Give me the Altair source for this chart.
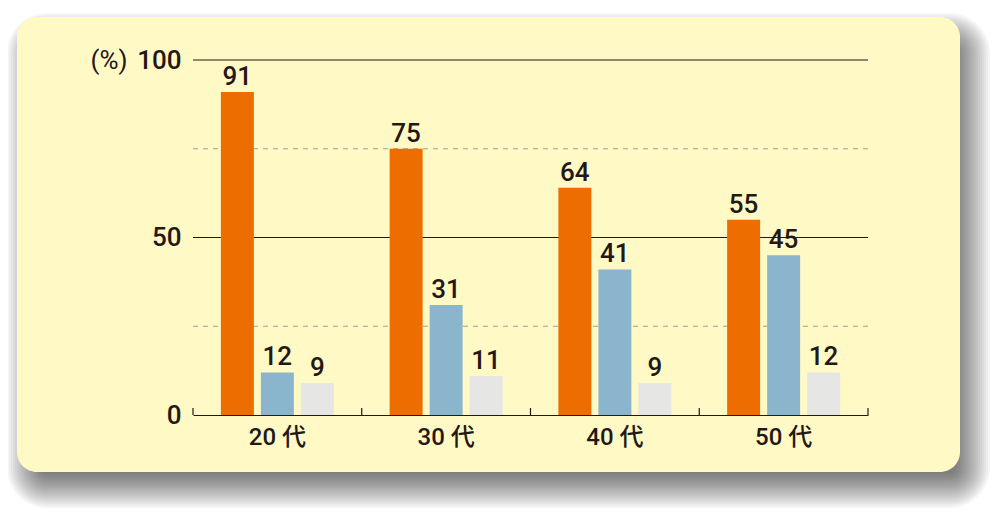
import altair as alt
import pandas as pd

ages = ["20 代", "30 代", "40 代", "50 代"]
series_names = ["系列1", "系列2", "系列3"]
vals_orange = [91, 75, 64, 55]
vals_blue = [12, 31, 41, 45]
vals_gray = [9, 11, 9, 12]
colors = ["#EE6D00", "#8BB5CD", "#E6E6E4"]
y_ticks = [0, 50, 100]
grid_solid = [50, 100]
grid_dashed = [25, 75]

rows = []
for s, vals in zip(series_names, [vals_orange, vals_blue, vals_gray]):
    for a, v in zip(ages, vals):
        rows.append({"age": a, "series": s, "value": v})
df = pd.DataFrame(rows)

W, H = 675, 355
TXT = "#231815"
FONT = "Roboto, Noto Sans CJK JP, sans-serif"

xenc = alt.X("age:N", sort=ages, scale=alt.Scale(paddingInner=0, paddingOuter=0),
             axis=alt.Axis(title=None, labelAngle=0, ticks=False, domain=True, domainColor="#231815",
                           domainWidth=1.2, labelFontSize=24, labelColor=TXT, labelPadding=10,
                           labelFont=FONT, labelFontWeight=500, zindex=2, grid=False))
yenc = alt.Y("value:Q", scale=alt.Scale(domain=[0, 100]),
             axis=alt.Axis(title=None, values=y_ticks, domain=False, ticks=False, grid=False,
                           labelFontSize=26, labelColor=TXT, labelPadding=12, labelFont=FONT,
                           labelFontWeight=500, zindex=2))
xoff = alt.XOffset("series:N", sort=series_names,
                   scale=alt.Scale(paddingInner=0.175, paddingOuter=0.697))
col = alt.Color("series:N", sort=series_names,
                scale=alt.Scale(domain=series_names, range=colors), legend=None)

base = alt.Chart(df)

# decorative panel + soft shadow
px0, px1, py0, py1 = -176, 767, -43, 412
dx, dy = 10, 16
layers = []
sh = pd.DataFrame({"k": [0]})
for g in range(-14, 21, 2):
    layers.append(
        alt.Chart(sh).mark_rect(color="black", opacity=0.035, cornerRadius=max(2, 20 + g)).encode(
            x=alt.value(px0 + dx - g), x2=alt.value(px1 + dx + g),
            y=alt.value(py0 + dy - g), y2=alt.value(py1 + dy + g)))
panel = alt.Chart(sh).mark_rect(color="#FFF9C6", cornerRadius=20).encode(
    x=alt.value(px0), x2=alt.value(px1), y=alt.value(py0), y2=alt.value(py1))

solid = alt.Chart(pd.DataFrame({"v": grid_solid})).mark_rule(color="#231815", strokeWidth=1.2).encode(
    y=alt.Y("v:Q", scale=alt.Scale(domain=[0, 100])))
dashed = alt.Chart(pd.DataFrame({"v": grid_dashed})).mark_rule(
    color="#9E9E9E", strokeWidth=1, strokeDash=[5, 5]).encode(
    y=alt.Y("v:Q", scale=alt.Scale(domain=[0, 100])))

bars = base.mark_bar().encode(x=xenc, xOffset=xoff, y=yenc, color=col)
labels = base.mark_text(baseline="alphabetic", dy=-7, fontSize=26, fontWeight=500,
                        font=FONT, color=TXT).encode(
    x=alt.X("age:N", sort=ages), xOffset=xoff, y="value:Q", text="value:Q")

tick_df = pd.DataFrame({"age": ages})
ticks_start = alt.Chart(tick_df).mark_rule(color="#231815", strokeWidth=1.2).encode(
    x=alt.X("age:N", sort=ages, bandPosition=0), y=alt.value(H), y2=alt.value(H - 7))
ticks_end = alt.Chart(pd.DataFrame({"age": [ages[-1]]})).mark_rule(color="#231815", strokeWidth=1.2).encode(
    x=alt.X("age:N", sort=ages, bandPosition=1), y=alt.value(H), y2=alt.value(H - 7))

pct = alt.Chart(sh).mark_text(text="(%)", fontSize=26, font=FONT, color=TXT, align="center",
                              baseline="middle").encode(x=alt.value(-84), y=alt.value(1))

chart = alt.layer(*layers, panel, dashed, solid, bars, labels, ticks_start, ticks_end, pct).properties(
    width=W, height=H,
    autosize=alt.AutoSizeParams(type="none"),
    padding={"left": 185, "top": 52, "right": 124, "bottom": 102},
    background="white",
).configure_view(stroke=None)

chart.save("out.html", embed_options={"renderer": "svg", "actions": False})
